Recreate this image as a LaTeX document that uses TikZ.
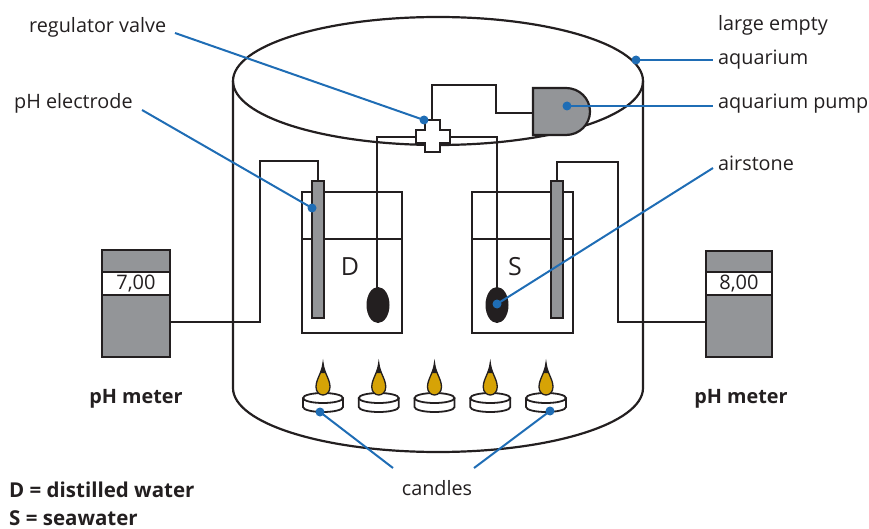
\documentclass[tikz,border=0pt]{standalone}
\usepackage{fontspec}
\setmainfont{Open Sans}
\definecolor{ink}{HTML}{231F20}
\definecolor{meter}{HTML}{939598}
\definecolor{callout}{HTML}{1F6DB5}
\definecolor{flame}{HTML}{D6A306}
\begin{document}
\begin{tikzpicture}[x=1pt,y=-1pt,
  outline/.style={draw=ink,line width=2.2pt},
  thinwire/.style={draw=ink,line width=1.3pt},
  thickwire/.style={draw=ink,line width=2.4pt},
  label/.style={text=ink,font=\fontsize{19.8}{22}\selectfont,inner sep=0pt},
  boldlabel/.style={text=ink,font=\fontsize{19.8}{22}\selectfont\bfseries,inner sep=0pt},
  callout/.style={draw=callout,line width=2pt},
  dot/.style={fill=callout},
]
\useasboundingbox (0,0) rectangle (869,529);

% ---- aquarium (cylinder) ----
\draw[outline] (438,81) ellipse [x radius=205pt, y radius=64pt];
\draw[outline] (233,81) -- (233,388)
  arc[start angle=180, end angle=360, x radius=205pt, y radius=64pt] -- (643,81);

% ---- beakers ----
\draw[outline] (302,192) rectangle (402,333);
\draw[outline] (302,239) -- (402,239);
\draw[outline] (472,192) rectangle (573,333);
\draw[outline] (472,239) -- (573,239);

% ---- air tubes ----
\draw[thickwire] (533,113) -- (496,113) -- (496,85) -- (432,85) -- (432,122);
\draw[thickwire] (418,137) -- (377,137) -- (377,292);
\draw[thinwire] (448,137) -- (497,137) -- (497,292);

% ---- electrode wires ----
\draw[thickwire] (318,181) -- (318,161) -- (260,161) -- (260,322) -- (170,322);
\draw[thinwire] (557,181) -- (557,162) -- (618,162) -- (618,322) -- (706,322);

% ---- electrodes ----
\draw[outline,fill=meter] (312,181) rectangle (324,318);
\draw[outline,fill=meter] (551,181) rectangle (563,318);

% ---- airstones ----
\fill[ink] (378,305) ellipse [x radius=11.5pt, y radius=18pt];
\fill[ink] (497,305) ellipse [x radius=11.5pt, y radius=18pt];

% ---- regulator valve ----
\draw[outline,fill=white]
  (425,120) -- (440,120) -- (440,130) -- (450,130) -- (450,143) -- (440,143)
  -- (440,152) -- (425,152) -- (425,143) -- (416,143) -- (416,130) -- (425,130) -- cycle;

% ---- aquarium pump ----
\draw[outline,fill=meter] (533,88) -- (566,88)
  arc[start angle=90, end angle=-90, x radius=24pt, y radius=23.5pt] -- (533,135) -- cycle;

% ---- pH meters ----
\draw[outline,line width=2.8pt,fill=meter] (102,250) rectangle (170,357);
\draw[outline,line width=2.8pt,fill=white] (102,272) rectangle (170,295);
\node[label,font=\fontsize{20}{22}\selectfont] (readD) at (136,284) {7,00};
\draw[outline,line width=2.8pt,fill=meter] (706,251) rectangle (772,357);
\draw[outline,line width=2.8pt,fill=white] (706,272) rectangle (772,295);
\node[label,font=\fontsize{20}{22}\selectfont] (readS) at (739,284) {8,00};

% ---- candles ----
\foreach \cx in {323,378.75,434.5,490.25,546} {
  \draw[outline,line width=1.8pt,fill=white] (\cx-20,398) -- (\cx-20,407)
    arc[start angle=180, end angle=360, x radius=20pt, y radius=5pt] -- (\cx+20,398);
  \draw[outline,line width=1.8pt,fill=white] (\cx,398) ellipse [x radius=20pt, y radius=5pt];
  \draw[draw=ink,line width=1.3pt,fill=flame] (\cx,363)
    .. controls (\cx+1,373) and (\cx+7,379) .. (\cx+7,387)
    .. controls (\cx+7,392) and (\cx+3.5,395) .. (\cx,395)
    .. controls (\cx-3.5,395) and (\cx-7,392) .. (\cx-7,387)
    .. controls (\cx-7,379) and (\cx-1,373) .. cycle;
  \fill[ink] (\cx,363) .. controls (\cx+0.8,368) and (\cx+2,371) .. (\cx+3,373)
    -- (\cx-3,373) .. controls (\cx-2,371) and (\cx-0.8,368) .. cycle;
}

% ---- beaker letters ----
\node[text=ink,font=\fontsize{25}{27}\selectfont,inner sep=0pt] (D) at (350,267) {D};
\node[text=ink,font=\fontsize{25}{27}\selectfont,inner sep=0pt] (S) at (515,267) {S};

% ---- labels ----
\node[label,anchor=west] (valve) at (29,27) {regulator valve};
\node[label,anchor=west] (electrode) at (14,103) {pH electrode};
\node[label,anchor=west] (large) at (718,25) {large empty};
\node[label,anchor=west] (aquarium) at (718,60) {aquarium};
\node[label,anchor=west] (pump) at (718,104) {aquarium pump};
\node[label,anchor=west] (airstone) at (718,163) {airstone};
\node[boldlabel] (meterL) at (136,399) {pH meter};
\node[boldlabel] (meterR) at (741,399) {pH meter};
\node[label] (candles) at (437,488) {candles};
\node[boldlabel,anchor=west,font=\fontsize{20.5}{22}\selectfont\bfseries] (keyD) at (9,490) {D = distilled water};
\node[boldlabel,anchor=west,font=\fontsize{20.5}{22}\selectfont\bfseries] (keyS) at (9,518) {S = seawater};

% ---- callouts ----
\coordinate (pValve) at (424,120);
\coordinate (pElec) at (312,208);
\coordinate (pAq) at (636,60);
\coordinate (pPump) at (567,106);
\coordinate (pStone) at (497,304);
\coordinate (pC1) at (320,412);
\coordinate (pC5) at (550,411);
\draw[callout] (175,33) -- (pValve);
\draw[callout] (142,110) -- (pElec);
\draw[callout] (pAq) -- (713,60);
\draw[callout] (pPump) -- (713,106);
\draw[callout] (713,168) -- (pStone);
\draw[callout] (pC1) -- (393,468);
\draw[callout] (pC5) -- (474,468);
\foreach \p in {pValve,pElec,pAq,pPump,pStone,pC1,pC5}
  \fill[dot] (\p) circle [radius=4.5pt];
\end{tikzpicture}
\end{document}
